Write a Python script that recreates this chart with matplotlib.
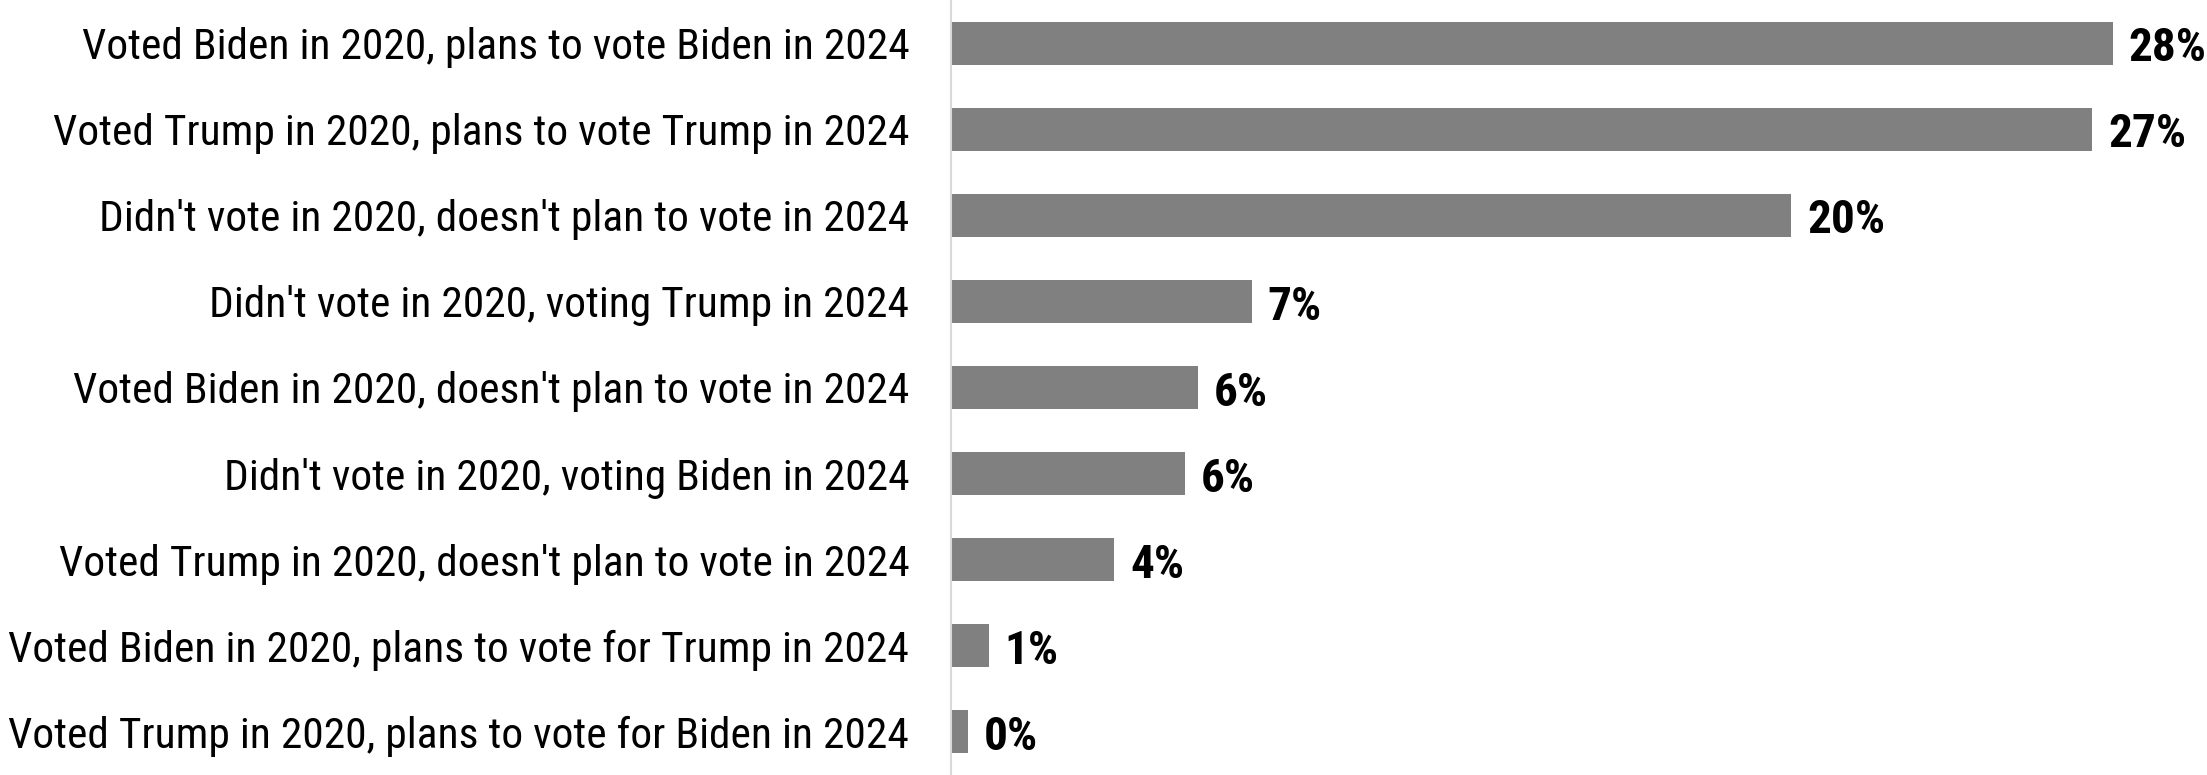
"""Horizontal bar chart of 2020 vote vs 2024 vote intention"""
import matplotlib.pyplot as plt

categories = [
    "Voted Biden in 2020, plans to vote Biden in 2024",
    "Voted Trump in 2020, plans to vote Trump in 2024",
    "Didn't vote in 2020, doesn't plan to vote in 2024",
    "Didn't vote in 2020, voting Trump in 2024",
    "Voted Biden in 2020, doesn't plan to vote in 2024",
    "Didn't vote in 2020, voting Biden in 2024",
    "Voted Trump in 2020, doesn't plan to vote in 2024",
    "Voted Biden in 2020, plans to vote for Trump in 2024",
    "Voted Trump in 2020, plans to vote for Biden in 2024",
]
shares = [27.8, 27.3, 20.1, 7.2, 5.9, 5.6, 3.9, 0.9, 0.4]

FONT = ["Roboto Condensed", "Liberation Sans Narrow", "Liberation Sans"]


def main():
    fig = plt.figure(figsize=(22.07, 7.75), dpi=100)
    ax = fig.add_axes([951 / 2207, 0, 1 - 951 / 2207, 1])

    y = list(range(len(categories)))
    ax.barh(y, shares, height=0.5, color="#808080")

    # value labels just right of each bar
    for yi, v in zip(y, shares):
        ax.text(v + 0.38, yi + 0.06, f"{v:.0f}%", va="center", ha="left",
                fontsize=34, fontweight="bold", family=FONT, clip_on=False)

    ax.set_yticks(y)
    ax.set_yticklabels(categories, family=FONT, fontsize=31.2)
    ax.tick_params(axis="y", length=0, pad=30)
    ax.set_xticks([])
    ax.set_xlim(0, 30.05)
    ax.set_ylim(8.5, -0.5)

    for side in ["top", "right", "bottom"]:
        ax.spines[side].set_visible(False)
    ax.spines["left"].set_color("#d9d9d9")
    ax.spines["left"].set_linewidth(1.5)

    fig.savefig("out.png", dpi=100)
    plt.close(fig)


if __name__ == "__main__":
    main()
